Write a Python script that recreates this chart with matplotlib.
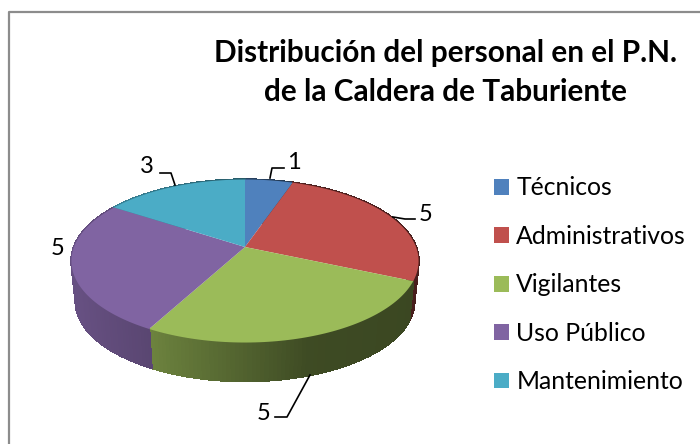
import matplotlib
matplotlib.use('Agg')
import matplotlib.pyplot as plt
from matplotlib.collections import PolyCollection
from matplotlib.lines import Line2D
from matplotlib.patches import Patch
import numpy as np

plt.rcParams['font.family'] = ['Lato', 'DejaVu Sans']

categories = ['Técnicos', 'Administrativos', 'Vigilantes', 'Uso Público', 'Mantenimiento']
values = [1, 5, 5, 5, 3]
colors = ['#4F81BD', '#C0504D', '#9BBB59', '#8064A2', '#4BACC6']
title = 'Distribución del personal en el P.N.\nde la Caldera de Taburiente'

# axes are in image pixels, y going down
fig = plt.figure(figsize=(7, 4.44), dpi=100)
ax = fig.add_axes([0, 0, 1, 1])
ax.set_xlim(0, 700)
ax.set_ylim(444, 0)
ax.axis('off')


def project(theta, scale=1.0, drop=0.0):
    # circle seen in perspective, theta clockwise from the top
    X = np.sin(theta)
    Y = np.cos(theta)
    w = 1 + 0.172 * Y
    return 245 + scale * 171 * X / w, 247 - scale * 79.1 * Y / w + drop


edges = np.radians(np.cumsum([0] + values) / sum(values) * 360)

# side wall, thin strips so the shading can change along it
shade_x = [76, 150, 310, 420]
shade_f = [0.80, 0.70, 0.40, 0.38]
for i in range(len(values)):
    t = np.linspace(edges[i], edges[i + 1], 80)
    x1, y1 = project(t)
    x2, y2 = project(t, 0.975, 41)
    quads = []
    cols = []
    base = np.array(matplotlib.colors.to_rgb(colors[i]))
    for j in range(len(t) - 1):
        quads.append([(x1[j], y1[j]), (x1[j + 1], y1[j + 1]), (x2[j + 1], y2[j + 1]), (x2[j], y2[j])])
        cols.append(base * np.interp(x1[j], shade_x, shade_f))
    ax.add_collection(PolyCollection(quads, facecolors=cols, edgecolors=cols, linewidths=1.0,
                                     antialiaseds=False, zorder=2))

# top face
for i in range(len(values)):
    t = np.linspace(edges[i], edges[i + 1], 80)
    x, y = project(t)
    ax.fill(np.r_[245, x], np.r_[247, y], color=colors[i], lw=0, zorder=3)

# data labels with their leader lines
label_pos = [(294, 162), (426, 214), (264, 413), (58, 248), (147, 166)]
leaders = [
    [(270, 178), (272, 168), (284, 168)],
    [(393, 217), (405, 219), (415, 219)],
    [(310, 375), (287, 417), (275, 417)],
    None,
    [(175, 185), (171, 173), (160, 173)],
]
for v, pos, lead in zip(values, label_pos, leaders):
    ax.text(pos[0], pos[1], str(v), fontsize=17, ha='center', va='center', color='black', zorder=5)
    if lead:
        ax.plot([p[0] for p in lead], [p[1] for p in lead], color='black', lw=1.2, zorder=4)

ax.text(445, 72.5, title, fontsize=21.4, fontweight='bold', ha='center', va='center',
        linespacing=1.44, color='black')

handles = [Patch(facecolor=c, edgecolor='none') for c in colors]
ax.legend(handles, categories, loc='upper left', bbox_to_anchor=(487 / 700, 1 - 169 / 444),
          frameon=False, fontsize=17.8, handlelength=0.61, handleheight=0.61,
          handletextpad=0.28, labelspacing=1.03, borderpad=0.3, borderaxespad=0)

# chart frame, only top and left are inside the crop
fig.add_artist(Line2D([8.5 / 700, 8.5 / 700, 1], [0, 1 - 12.5 / 444, 1 - 12.5 / 444],
                      color='#8C8C8C', lw=1.6))

fig.savefig('out.png', dpi=100)
